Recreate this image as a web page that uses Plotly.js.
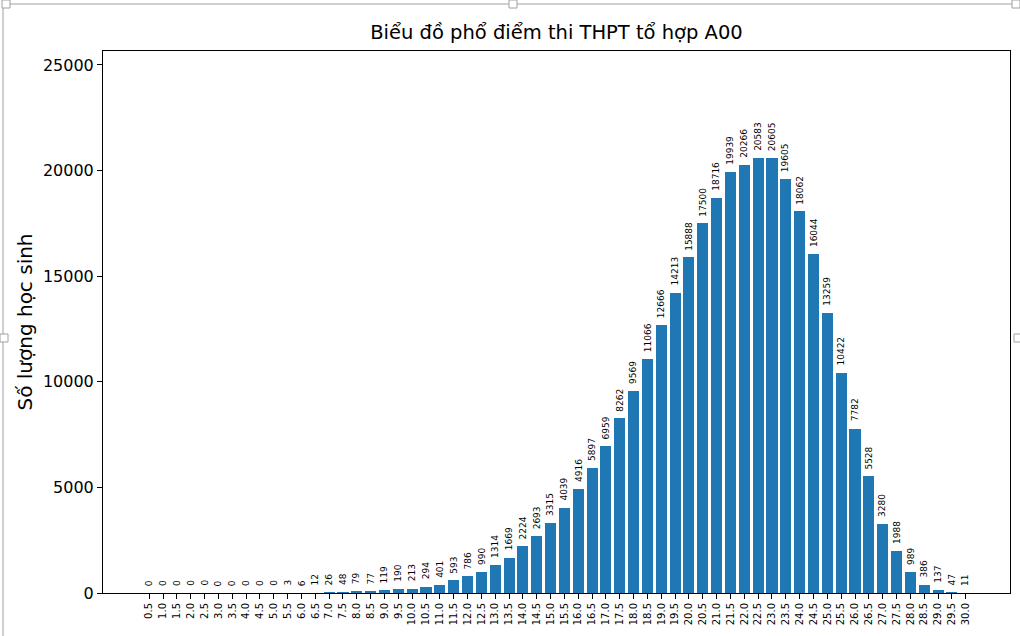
<!DOCTYPE html>
<html>
<head>
<meta charset="utf-8">
<script src="https://cdn.plot.ly/plotly-3.0.1.min.js"></script>
<style>
  body { margin: 0; background: #fff; }
  #chart { width: 1020px; height: 636px; }
</style>
</head>
<body>
<div id="chart"></div>
<script>
// điểm tổ hợp A00 (0.5 .. 30.0)
var scores = [];
for (var s = 1; s <= 60; s++) scores.push(s / 2);

var counts = [0, 0, 0, 0, 0, 0, 0, 0, 0, 0,
              3, 6, 12, 26, 48, 79, 77, 119, 190, 213,
              294, 401, 593, 786, 990, 1314, 1669, 2224, 2693, 3315,
              4039, 4916, 5897, 6959, 8262, 9569, 11066, 12666, 14213, 15888,
              17500, 18716, 19939, 20266, 20583, 20605, 19605, 18062, 16044, 13259,
              10422, 7782, 5528, 3280, 1988, 989, 386, 137, 47, 11];

var tickLabels = scores.map(function (v) { return v.toFixed(1); });
var yTicks = [0, 5000, 10000, 15000, 20000, 25000];

var W = 1020, H = 636, L = 103, R = 1010, T = 51, B = 593;
function px(x) { return (x - L) / (R - L); }
function py(y) { return (B - y) / (B - T); }

var trace = {
    x: scores,
    y: counts,
    type: 'bar',
    width: 0.4,
    marker: { color: '#1f77b4' },
    hoverinfo: 'x+y'
};

// nhãn số lượng trên mỗi cột
var labels = scores.map(function (x, i) {
    return {
        x: x, y: counts[i], xref: 'x', yref: 'y',
        text: String(counts[i]), showarrow: false,
        textangle: -90, xanchor: 'center', yanchor: 'bottom',
        yshift: 5,
        font: { family: 'DejaVu Sans', size: 9, color: '#000' }
    };
});

var grey = '#a0a0a0';
function handle(cx, cy) {
    return { type: 'rect', xref: 'paper', yref: 'paper',
             x0: px(cx - 4), x1: px(cx + 4), y0: py(cy + 4), y1: py(cy - 4),
             line: { color: grey, width: 1 }, fillcolor: '#fff' };
}

var layout = {
    width: W, height: H,
    margin: { l: L, r: W - R, t: T, b: H - B },
    paper_bgcolor: '#fff',
    plot_bgcolor: '#fff',
    showlegend: false,
    bargap: 0,
    font: { family: 'DejaVu Sans', color: '#000' },
    title: {
        text: 'Biểu đồ phổ điểm thi THPT tổ hợp A00',
        font: { family: 'DejaVu Sans', size: 19.5, color: '#000' },
        x: 0.5, xref: 'paper', xanchor: 'center',
        y: 1 - 32 / H, yanchor: 'middle'
    },
    xaxis: {
        range: [-1.17, 31.6],
        tickvals: scores,
        ticktext: tickLabels,
        tickangle: -90,
        tickfont: { family: 'DejaVu Sans', size: 10, color: '#000' },
        ticks: 'outside', ticklen: 5, tickcolor: '#000',
        showgrid: false, zeroline: false,
        showline: true, linecolor: '#000', linewidth: 1, mirror: true
    },
    yaxis: {
        range: [0, 25660],
        tickvals: yTicks,
        ticktext: yTicks.map(String),
        tickfont: { family: 'DejaVu Sans', size: 16, color: '#000' },
        ticks: 'outside', ticklen: 5, tickcolor: '#000',
        showgrid: false, zeroline: false,
        showline: true, linecolor: '#000', linewidth: 1, mirror: true,
        title: { text: 'Số lượng học sinh', font: { family: 'DejaVu Sans', size: 20, color: '#000' }, standoff: 4 }
    },
    annotations: labels,
    shapes: [
        { type: 'line', xref: 'paper', yref: 'paper', x0: px(3), x1: px(1020), y0: py(4), y1: py(4), line: { color: grey, width: 1 } },
        { type: 'line', xref: 'paper', yref: 'paper', x0: px(3), x1: px(3), y0: py(4), y1: py(636), line: { color: grey, width: 1 } },
        handle(6, 4), handle(513, 4), handle(1016, 4), handle(4, 338), handle(1018, 338)
    ]
};

Plotly.newPlot('chart', [trace], layout, { displayModeBar: false, staticPlot: true });
</script>
</body>
</html>
